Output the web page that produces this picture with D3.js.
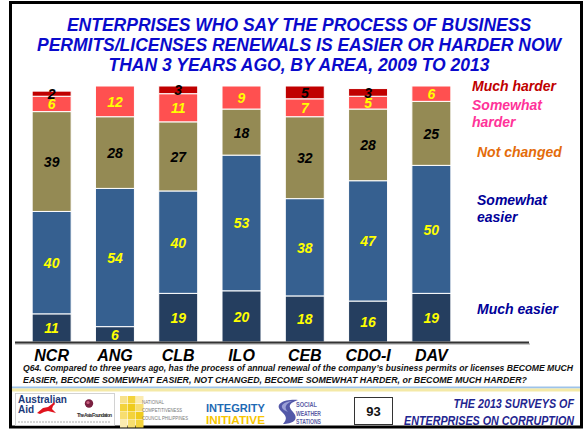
<!DOCTYPE html>
<html>
<head>
<meta charset="utf-8">
<script src="https://cdn.jsdelivr.net/npm/d3@7"></script>
<style>
  html, body { margin: 0; padding: 0; background: #fff; }
  svg { display: block; }
  text { font-family: "Liberation Sans", Arial, sans-serif; }
</style>
</head>
<body>
<svg id="chart" width="585" height="430"></svg>
<script>
// Survey results by area (percent of enterprises)
const categories = ["NCR", "ANG", "CLB", "ILO", "CEB", "CDO-I", "DAV"];
const muchEasier     = [11, 6, 19, 20, 18, 16, 19];
const somewhatEasier = [40, 54, 40, 53, 38, 47, 50];
const notChanged     = [39, 28, 27, 18, 32, 28, 25];
const somewhatHarder = [6, 12, 11, 9, 7, 5, 6];
const muchHarder     = [2, 0, 3, 0, 5, 3, 0];

const titleLines = [
  "ENTERPRISES WHO SAY THE PROCESS OF BUSINESS",
  "PERMITS/LICENSES RENEWALS IS EASIER OR HARDER NOW",
  "THAN 3 YEARS AGO, BY AREA, 2009 TO 2013"
];
const questionLines = [
  "Q64. Compared to three years ago, has the process of annual renewal of the company\u2019s business permits or licenses BECOME MUCH",
  "EASIER, BECOME SOMEWHAT EASIER, NOT CHANGED, BECOME SOMEWHAT HARDER, or BECOME MUCH HARDER?"
];

// series, bottom to top
const series = [
  { key: "muchEasier",     name: "Much easier",     values: muchEasier,     fill: "#253E5F", label: "#FFFF00", legend: "#000099" },
  { key: "somewhatEasier", name: "Somewhat easier", values: somewhatEasier, fill: "#366090", label: "#FFFF00", legend: "#000099" },
  { key: "notChanged",     name: "Not changed",     values: notChanged,     fill: "#948A54", label: "#000000", legend: "#E46C0A" },
  { key: "somewhatHarder", name: "Somewhat harder", values: somewhatHarder, fill: "#FF5050", label: "#FFFF00", legend: "#FF3399" },
  { key: "muchHarder",     name: "Much harder",     values: muchHarder,     fill: "#C00000", label: "#000000", legend: "#C00000" }
];

const rows = categories.map((c, i) => {
  const r = { category: c };
  series.forEach(s => { r[s.key] = s.values[i]; });
  return r;
});

const svg = d3.select("#chart");

// frame
svg.append("rect")
  .attr("x", 10.5).attr("y", 2.5).attr("width", 571).attr("height", 424.5)
  .attr("fill", "none").attr("stroke", "#000").attr("stroke-width", 3);

// title
svg.append("g").selectAll("text").data(titleLines).join("text")
  .attr("x", 299).attr("y", (d, i) => 30.5 + i * 20.3)
  .attr("text-anchor", "middle")
  .attr("font-size", 17.5).attr("font-weight", "bold").attr("font-style", "italic")
  .attr("fill", "#0A0ACC")
  .text(d => d);

// scales
const x = d3.scaleBand().domain(categories).range([20, 463]).paddingInner(0.384).paddingOuter(0.192);
const y = d3.scaleLinear().domain([0, 100]).range([342, 86]);

const stacked = d3.stack().keys(series.map(s => s.key))(rows);

const layers = svg.append("g").selectAll("g").data(stacked).join("g")
  .attr("fill", (d, i) => series[i].fill);

layers.selectAll("rect").data(d => d.filter(p => p[1] - p[0] > 0)).join("rect")
  .attr("x", d => x(d.data.category))
  .attr("width", x.bandwidth())
  .attr("y", d => y(d[1]))
  .attr("height", d => y(d[0]) - y(d[1]))
  .attr("stroke", "#fff").attr("stroke-width", 1);

// value labels
stacked.forEach((layer, i) => {
  svg.append("g").selectAll("text").data(layer.filter(p => p[1] - p[0] > 0)).join("text")
    .attr("x", d => x(d.data.category) + x.bandwidth() / 2)
    .attr("y", d => (y(d[0]) + y(d[1])) / 2 + 5.5)
    .attr("text-anchor", "middle")
    .attr("font-size", 14).attr("font-weight", "bold").attr("font-style", "italic")
    .attr("fill", series[i].label)
    .text(d => d[1] - d[0]);
});

// baseline with soft shadow
svg.append("line").attr("x1", 15).attr("x2", 530).attr("y1", 344).attr("y2", 344)
  .attr("stroke", "#bbb").attr("stroke-width", 1.5);
svg.append("line").attr("x1", 15).attr("x2", 529).attr("y1", 342.5).attr("y2", 342.5)
  .attr("stroke", "#333").attr("stroke-width", 1.8);

// category axis labels
const xAxis = d3.axisBottom(x).tickSize(0).tickPadding(0);
const axisG = svg.append("g").attr("transform", "translate(0,346)").call(xAxis);
axisG.select(".domain").remove();
axisG.selectAll("text")
  .attr("dy", "0.95em")
  .attr("font-size", 16).attr("font-weight", "bold").attr("font-style", "italic")
  .attr("font-family", "'Liberation Sans', Arial, sans-serif")
  .attr("fill", "#000");

// legend
const legendItems = [
  { lines: ["Much harder"], x: 472, y: 91, color: series[4].legend },
  { lines: ["Somewhat", "harder"], x: 472, y: 110, color: series[3].legend },
  { lines: ["Not changed"], x: 477, y: 156.5, color: series[2].legend },
  { lines: ["Somewhat", "easier"], x: 477, y: 205, color: series[1].legend },
  { lines: ["Much easier"], x: 477, y: 314, color: series[0].legend }
];
const lg = svg.append("g");
legendItems.forEach(it => {
  lg.append("g").selectAll("text").data(it.lines).join("text")
    .attr("x", it.x).attr("y", (d, i) => it.y + i * 16.7)
    .attr("font-size", 14).attr("font-weight", "bold").attr("font-style", "italic")
    .attr("fill", it.color)
    .text(d => d);
});

// question wording
svg.append("g").selectAll("text").data(questionLines).join("text")
  .attr("x", 23).attr("y", (d, i) => 371 + i * 12)
  .attr("font-size", 8.8).attr("font-weight", "bold").attr("font-style", "italic")
  .attr("fill", "#111")
  .attr("textLength", (d, i) => i === 0 ? 550 : 504)
  .attr("lengthAdjust", "spacingAndGlyphs")
  .text(d => d);

// separator band
svg.append("rect").attr("x", 12).attr("y", 386.5).attr("width", 568).attr("height", 2).attr("fill", "#9EC3EA");
svg.append("rect").attr("x", 12).attr("y", 388.5).attr("width", 568).attr("height", 3).attr("fill", "#F4E9A6");

// footer
const foot = svg.append("g");

// Australian Aid / The Asia Foundation
foot.append("rect").attr("x", 15.5).attr("y", 393.5).attr("width", 99).attr("height", 32)
  .attr("fill", "#fff").attr("stroke", "#c8c8c8").attr("stroke-width", 0.8);
foot.append("text").attr("x", 18).attr("y", 403).attr("font-size", 10).attr("font-weight", "bold")
  .attr("fill", "#1B3A7A").text("Australian");
foot.append("text").attr("x", 18).attr("y", 412.5).attr("font-size", 10).attr("font-weight", "bold")
  .attr("fill", "#1B3A7A").text("Aid");
foot.append("path")
  .attr("d", "M37,413 L43,408 L48,407 L52,404 L54,402 L55,404 L53,406 L52,409 L56,413 L52,412 L48,411 L44,412 L40,414 Z")
  .attr("fill", "#E0141E");
foot.append("circle").attr("cx", 89).attr("cy", 403.5).attr("r", 4.2).attr("fill", "#7A2040");
foot.append("circle").attr("cx", 88).attr("cy", 402.5).attr("r", 1.6).attr("fill", "#C86080");
foot.append("text").attr("x", 77).attr("y", 416.5).attr("font-size", 5).attr("font-weight", "bold")
  .attr("fill", "#333").attr("textLength", 35).text("The Asia Foundation");
foot.append("line").attr("x1", 18).attr("x2", 110).attr("y1", 422).attr("y2", 422)
  .attr("stroke", "#999").attr("stroke-width", 0.8).attr("stroke-dasharray", "2,1");

// National Competitiveness Council
const sq = [[120, 396, "#F7E18A"], [128, 396, "#F3D33C"], [136, 396, "#FBEBB0"],
            [120, 404, "#F3D33C"], [128, 404, "#EFCB1C"], [136, 404, "#F7DE70"],
            [120, 412, "#F7DE70"], [128, 412, "#F3D33C"], [136, 412, "#EFCB1C"],
            [120, 420, "#FBEBB0"], [128, 420, "#F7DE70"], [136, 420, "#F3D33C"]];
foot.append("g").selectAll("rect").data(sq).join("rect")
  .attr("x", d => d[0]).attr("y", d => d[1]).attr("width", 7.5).attr("height", 7.5).attr("fill", d => d[2]);
["NATIONAL", "COMPETITIVENESS", "COUNCIL PHILIPPINES"].forEach((t, i) => {
  foot.append("text").attr("x", 142).attr("y", 404 + i * 8).attr("font-size", 6.2)
    .attr("fill", "#777").attr("textLength", [22, 40, 46][i]).attr("lengthAdjust", "spacingAndGlyphs").text(t);
});

// Integrity Initiative
foot.append("text").attr("x", 206).attr("y", 412).attr("font-size", 11.5).attr("font-weight", "bold")
  .attr("fill", "#1E6AB4").attr("textLength", 59).attr("lengthAdjust", "spacingAndGlyphs").text("INTEGRITY");
foot.append("text").attr("x", 206).attr("y", 424).attr("font-size", 11.5).attr("font-weight", "bold")
  .attr("fill", "#F7C600").attr("textLength", 59).attr("lengthAdjust", "spacingAndGlyphs").text("INITIATIVE");

// Social Weather Stations
foot.append("path")
  .attr("d", "M298,400 C284,399 274,404 281,411 C286,416 288,418 283,424 C292,424 300,420 293,412 C289,407 287,404 298,400 Z")
  .attr("fill", "#5358A8");
foot.append("path")
  .attr("d", "M292,401 C283,402 279,406 284,410 L288,412 C284,408 285,404 292,401 Z")
  .attr("fill", "#9BA0D6");
["SOCIAL", "WEATHER", "STATIONS"].forEach((t, i) => {
  foot.append("text").attr("x", 296).attr("y", 407 + i * 8.6).attr("font-size", 7.5).attr("font-weight", "bold")
    .attr("font-family", "'Liberation Serif', serif").attr("fill", "#5B5EA6")
    .attr("textLength", [21, 25, 25][i]).attr("lengthAdjust", "spacingAndGlyphs").text(t);
});

// page number
foot.append("rect").attr("x", 354.5).attr("y", 397.5).attr("width", 38).attr("height", 27)
  .attr("fill", "#fff").attr("stroke", "#333").attr("stroke-width", 1);
foot.append("text").attr("x", 373.5).attr("y", 416).attr("text-anchor", "middle")
  .attr("font-size", 13).attr("font-weight", "bold").attr("font-family", "Lato, sans-serif")
  .attr("fill", "#111").text("93");

// survey series name, horizontally condensed
[["THE 2013 SURVEYS OF", 407.5], ["ENTERPRISES ON CORRUPTION", 424.5]].forEach(d => {
  foot.append("g").attr("transform", `translate(574,${d[1]}) scale(0.86,1)`)
    .append("text").attr("x", 0).attr("y", 0).attr("text-anchor", "end")
    .attr("font-size", 12.5).attr("font-weight", "bold").attr("font-style", "italic")
    .attr("font-family", "Lato, sans-serif").attr("fill", "#1F2590")
    .text(d[0]);
});
</script>
</body>
</html>
